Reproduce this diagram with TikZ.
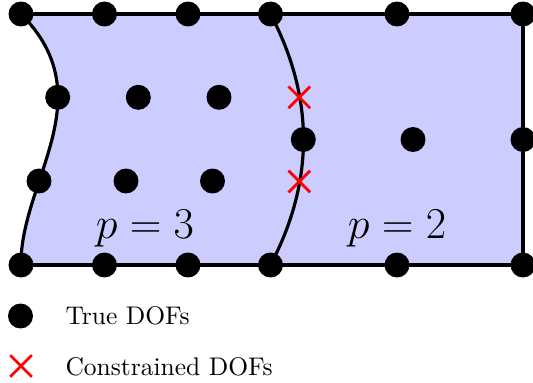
\documentclass[tikz,border=0pt]{standalone}
\usetikzlibrary{shapes.misc}
\begin{document}
\begin{tikzpicture}[x=0.3922pt,y=-0.3922pt,
  dof/.style={circle,fill=black,inner sep=0pt,minimum size=9.8pt},
  cdof/.style={cross out,draw=red,line width=1.1pt,inner sep=0pt,minimum size=7.4pt},
  edgeline/.style={line width=1.25pt},
  plabel/.style={anchor=base,inner sep=0pt,font=\LARGE},
  legtext/.style={anchor=base west,inner sep=0pt}]
\useasboundingbox (0,0) rectangle (533,383);
% corner / edge coordinates
\coordinate (TL) at (21,14);
\coordinate (T1) at (104.5,14);
\coordinate (T2) at (188,14);
\coordinate (TM) at (270.5,14);
\coordinate (T3) at (397,14);
\coordinate (TR) at (523,14);
\coordinate (BL) at (21,265);
\coordinate (B1) at (104.5,265);
\coordinate (B2) at (188,265);
\coordinate (BM) at (270.5,265);
\coordinate (B3) at (397,265);
\coordinate (BR) at (523,265);
\coordinate (L1) at (57.7,97.3);
\coordinate (L2) at (39,181);
\coordinate (M1) at (303.3,139.5);
\coordinate (R1) at (523,139.5);
% fill
\fill[blue!20] (TL) .. controls (104.5,97.67) and (20,181.33) .. (BL) -- (BR) -- (TR) -- cycle;
% edges
\draw[edgeline] (TL) .. controls (104.5,97.67) and (20,181.33) .. (BL);
\draw[edgeline] (TM) .. controls (314.5,97.67) and (314.5,181.33) .. (BM);
\draw[edgeline] (TL) -- (TR) -- (BR) -- (BL);
% dofs
\foreach \n in {TL,T1,T2,TM,T3,TR,BL,B1,B2,BM,B3,BR,L1,L2,M1,R1}
  \node[dof] (d\n) at (\n) {};
\node[dof] (i1) at (138.3,97.3) {};
\node[dof] (i2) at (219,97.3) {};
\node[dof] (i3) at (126,181) {};
\node[dof] (i4) at (212.5,181) {};
\node[dof] (i5) at (413,139.5) {};
\node[cdof] (c1) at (299.3,97.3) {};
\node[cdof] (c2) at (299.3,181.5) {};
% labels
\node[plabel] (p3) at (145,238) {$p=3$};
\node[plabel] (p2) at (397,238) {$p=2$};
% legend
\node[dof] (legdot) at (20.5,316) {};
\node[legtext] (legt1) at (65,324) {True DOFs};
\node[cdof] (legx) at (21,366) {};
\node[legtext] (legt2) at (65,375) {Constrained DOFs};
\end{tikzpicture}
\end{document}
